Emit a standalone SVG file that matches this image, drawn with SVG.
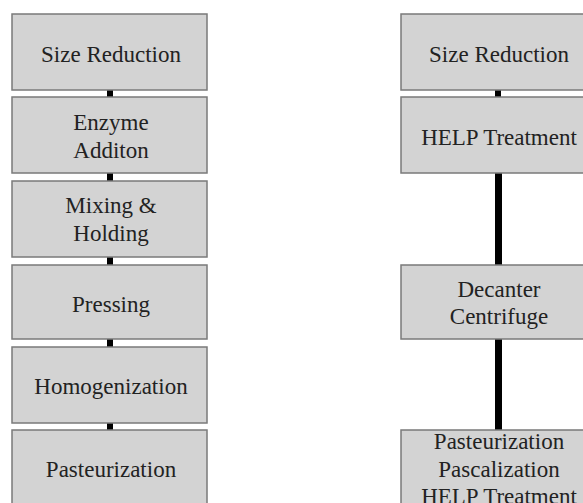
<svg xmlns="http://www.w3.org/2000/svg" width="583" height="503" viewBox="0 0 583 503">
<style>
.box{fill:#d3d3d3;stroke:#7a7a7a;stroke-width:1.5}
.t{font-family:"Liberation Serif","Times New Roman",serif;font-size:23px;fill:#222;text-anchor:middle}
.c{fill:#000}
</style>
<rect width="583" height="503" fill="#fff"/>
<g id="connectors">
<rect class="c" x="107" y="90" width="6" height="7"/>
<rect class="c" x="107" y="173" width="6" height="8"/>
<rect class="c" x="107" y="257" width="6" height="8"/>
<rect class="c" x="107" y="339" width="6" height="8"/>
<rect class="c" x="107" y="423" width="6" height="7"/>
<rect class="c" x="495" y="90" width="6" height="7"/>
<rect class="c" x="495" y="173" width="7" height="92"/>
<rect class="c" x="495" y="339" width="7" height="91"/>
</g>
<g id="l1"><rect class="box" x="12" y="14" width="195" height="76"/><text class="t" x="111" y="62">Size Reduction</text></g>
<g id="l2"><rect class="box" x="12" y="97" width="195" height="76"/><text class="t" x="111" y="130">Enzyme</text><text class="t" x="111" y="158">Additon</text></g>
<g id="l3"><rect class="box" x="12" y="181" width="195" height="76"/><text class="t" x="111" y="213">Mixing &amp;</text><text class="t" x="111" y="241">Holding</text></g>
<g id="l4"><rect class="box" x="12" y="265" width="195" height="74"/><text class="t" x="111" y="312">Pressing</text></g>
<g id="l5"><rect class="box" x="12" y="347" width="195" height="76"/><text class="t" x="111" y="394">Homogenization</text></g>
<g id="l6"><rect class="box" x="12" y="430" width="195" height="80"/><text class="t" x="111" y="477">Pasteurization</text></g>
<g id="r1"><rect class="box" x="401" y="14" width="194" height="76"/><text class="t" x="499" y="62">Size Reduction</text></g>
<g id="r2"><rect class="box" x="401" y="97" width="194" height="76"/><text class="t" x="499" y="145">HELP Treatment</text></g>
<g id="r3"><rect class="box" x="401" y="265" width="194" height="74"/><text class="t" x="499" y="297">Decanter</text><text class="t" x="499" y="324">Centrifuge</text></g>
<g id="r4"><rect class="box" x="401" y="430" width="194" height="80"/><text class="t" x="499" y="449">Pasteurization</text><text class="t" x="499" y="477">Pascalization</text><text class="t" x="499" y="504">HELP Treatment</text></g>
</svg>
